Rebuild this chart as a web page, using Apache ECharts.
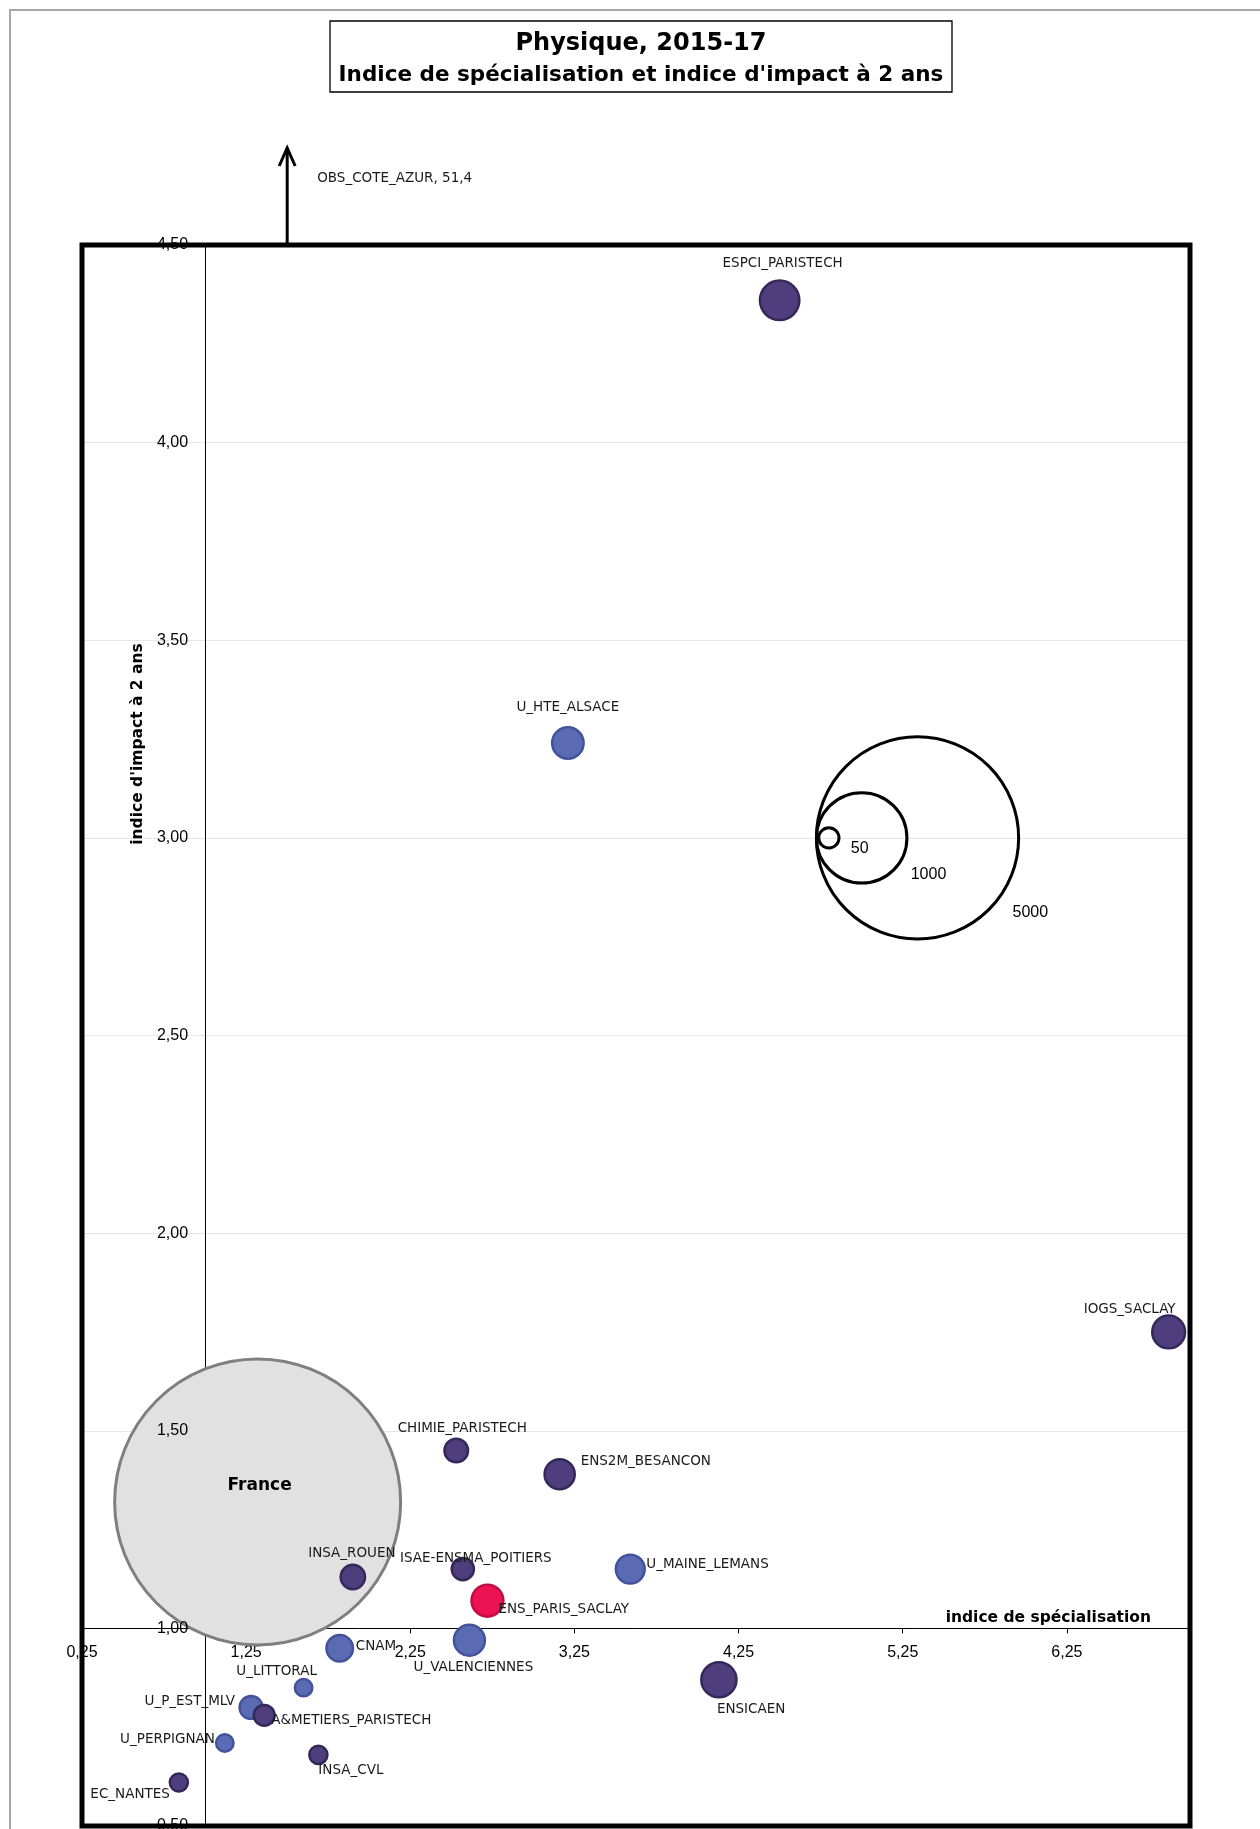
<!DOCTYPE html>
<html>
<head>
<meta charset="utf-8">
<script src="https://cdn.jsdelivr.net/npm/echarts@6/dist/echarts.min.js"></script>
<style>
html,body{margin:0;padding:0;background:#fff;}
#chart{width:1260px;height:1829px;}
</style>
</head>
<body>
<div id="chart"></div>
<script>
// ---------- DATA ----------
const institutions = ['ESPCI_PARISTECH','U_HTE_ALSACE','IOGS_SACLAY','CHIMIE_PARISTECH','ENS2M_BESANCON',
  'INSA_ROUEN','ISAE-ENSMA_POITIERS','U_MAINE_LEMANS','ENS_PARIS_SACLAY','CNAM','U_VALENCIENNES',
  'ENSICAEN','U_LITTORAL','U_P_EST_MLV','A&METIERS_PARISTECH','U_PERPIGNAN','INSA_CVL','EC_NANTES'];
const specIndex   = [4.50, 3.21, 6.87, 2.53, 3.16, 1.90, 2.57, 3.59, 2.72, 1.82, 2.61, 4.13, 1.60, 1.28, 1.36, 1.12, 1.69, 0.84];
const impactIndex = [4.36, 3.24, 1.75, 1.45, 1.39, 1.13, 1.15, 1.15, 1.07, 0.95, 0.97, 0.87, 0.85, 0.80, 0.78, 0.71, 0.68, 0.61];
const publications = [190, 121, 132, 68, 111, 72, 60, 102, 124, 86, 117, 151, 37, 64, 53, 37, 40, 40];
const groups = ['ecole','universite','ecole','ecole','ecole','ecole','ecole','universite','focus','universite',
  'universite','ecole','universite','universite','ecole','universite','ecole','ecole'];

const franceName = 'France';
const franceSpec = 1.32;
const franceImpact = 1.32;
const francePubs = 10000;

const outlierName = 'OBS_COTE_AZUR';
const outlierSpec = 1.50;
const outlierImpact = 51.4;

const sizeLegendValues = [50, 1000, 5000];
const sizeLegendSpec = [4.80, 5.00, 5.34];
const sizeLegendImpact = [3.00, 3.00, 3.00];

const X_MIN = 0.25, X_MAX = 7.0, X_STEP = 1;
const Y_MIN = 0.5, Y_MAX = 4.5, Y_STEP = 0.5;
const CROSS_X = 1.0, CROSS_Y = 1.0;

// ---------- STYLE ----------
const SIZE_K = 2.86; // diameter per sqrt(publications)
const groupStyle = {
  ecole:      {color:'#4f3e7d', borderColor:'#352859', borderWidth:2.5, opacity:1},
  universite: {color:'#5a6bb3', borderColor:'#43539b', borderWidth:2.5, opacity:1},
  focus:      {color:'#ec1254', borderColor:'#c20d44', borderWidth:2.5, opacity:1}
};
// label placement: [align, dx, dy] relative to bubble centre
const labelLayout = {
  'ESPCI_PARISTECH':['center',3,-37],
  'U_HTE_ALSACE':['center',0,-36],
  'IOGS_SACLAY':['center',-39,-22],
  'CHIMIE_PARISTECH':['center',6,-22],
  'ENS2M_BESANCON':['left',21,-13],
  'INSA_ROUEN':['center',-1,-23],
  'ISAE-ENSMA_POITIERS':['center',13,-11],
  'U_MAINE_LEMANS':['left',16,-5],
  'ENS_PARIS_SACLAY':['left',11,9],
  'CNAM':['left',16,-2],
  'U_VALENCIENNES':['center',4,27],
  'ENSICAEN':['left',-2,30],
  'U_LITTORAL':['center',-27,-16],
  'U_P_EST_MLV':['right',-16,-6],
  'A&METIERS_PARISTECH':['left',7,5],
  'U_PERPIGNAN':['right',-10,-3],
  'INSA_CVL':['left',0,16],
  'EC_NANTES':['right',-9,12]
};
const legendLabelOffset = [[22,11],[49,37],[95,75]];

const LABEL_FONT = 'DejaVu Sans';
const TICK_FONT = 'Liberation Sans';
const fmt = v => v.toFixed(2).replace('.', ',');

const pointData = institutions.map((name, i) => {
  const lay = labelLayout[name] || ['center', 0, -20];
  return {
    name: name,
    value: [specIndex[i], impactIndex[i], publications[i]],
    itemStyle: groupStyle[groups[i]],
    label: {show:true, position:'inside', align: lay[0], verticalAlign:'middle', offset:[lay[1], lay[2]]}
  };
});

const legendData = sizeLegendValues.map((v, i) => ({
  name: String(v),
  value: [sizeLegendSpec[i], sizeLegendImpact[i], v],
  label: {show:true, position:'inside', align:'left', verticalAlign:'middle', offset: legendLabelOffset[i]}
}));

const chart = echarts.init(document.getElementById('chart'));

function axisX(offset) {
  return {
    type:'value', min:X_MIN, max:X_MAX, interval:X_STEP, position:'bottom', offset: offset,
    axisLine:{show:true, onZero:false, lineStyle:{color:'#000', width:1}},
    axisTick:{show:true, length:5, lineStyle:{color:'#000'}},
    axisLabel:{show:true, formatter:fmt, margin:16, showMaxLabel:false, showMinLabel:true,
      fontFamily:TICK_FONT, fontSize:16, color:'#000'},
    splitLine:{show:false}
  };
}
function axisY(offset) {
  return [{
    type:'value', min:Y_MIN, max:Y_MAX, interval:Y_STEP, position:'left', offset: offset,
    axisLine:{show:true, onZero:false, lineStyle:{color:'#000', width:1}},
    axisTick:{show:false},
    axisLabel:{show:false},
    splitLine:{show:true, lineStyle:{color:'#e6e6e6', width:1}}
  },{
    type:'value', min:Y_MIN, max:Y_MAX, interval:Y_STEP, position:'left', offset: offset, z:10,
    axisLine:{show:false, onZero:false},
    axisTick:{show:false},
    axisLabel:{show:true, formatter:fmt, margin:17, fontFamily:TICK_FONT, fontSize:16, color:'#000'},
    splitLine:{show:false}
  }];
}

const option = {
  animation:false,
  backgroundColor:'#fff',
  title:[
    {text:'Physique, 2015-17', left:641, top:32, textAlign:'center', padding:0,
      textStyle:{fontFamily:LABEL_FONT, fontSize:24, fontWeight:'bold', color:'#000'}},
    {text:"Indice de spécialisation et indice d'impact à 2 ans", left:641, top:64, textAlign:'center', padding:0,
      textStyle:{fontFamily:LABEL_FONT, fontSize:21.5, fontWeight:'bold', color:'#000'}}
  ],
  grid:{left:82, right:70, top:245, bottom:3, show:false, containLabel:false, outerBoundsMode:'none'},
  xAxis: axisX(0),
  yAxis: axisY(0),
  series:[
    {
      name:franceName, type:'scatter', z:1, silent:true,
      data:[{name:franceName, value:[franceSpec, franceImpact, francePubs]}],
      symbolSize: v => SIZE_K*Math.sqrt(v[2]),
      itemStyle:{color:'#e1e1e1', borderColor:'#7f7f7f', borderWidth:3, opacity:1},
      label:{show:true, position:'inside', formatter:'{b}', offset:[2,-16],
        fontFamily:LABEL_FONT, fontSize:17, fontWeight:'bold', color:'#000'}
    },
    {
      name:'Établissements', type:'scatter', z:3, silent:true,
      data: pointData,
      symbolSize: v => SIZE_K*Math.sqrt(v[2]),
      label:{show:true, formatter:'{b}', fontFamily:LABEL_FONT, fontSize:13.5, color:'#1a1a1a'}
    },
    {
      name:'Taille', type:'scatter', z:2, silent:true,
      data: legendData,
      symbolSize: v => SIZE_K*Math.sqrt(v[2]),
      itemStyle:{color:'rgba(0,0,0,0)', borderColor:'#000', borderWidth:3, opacity:1},
      label:{show:true, formatter:'{b}', fontFamily:TICK_FONT, fontSize:16, color:'#000'}
    }
  ]
};
chart.setOption(option);

// position the axes so they cross at (CROSS_X, CROSS_Y), using the library's scales
const pCross = chart.convertToPixel({gridIndex:0}, [CROSS_X, CROSS_Y]);
const pMin0 = chart.convertToPixel({gridIndex:0}, [X_MIN, Y_MIN]);
chart.setOption({
  xAxis: axisX(-(pMin0[1] - pCross[1])),
  yAxis: axisY(-(pCross[0] - pMin0[0]))
});

const pMin = chart.convertToPixel({gridIndex:0}, [X_MIN, Y_MIN]);
const pMax = chart.convertToPixel({gridIndex:0}, [X_MAX, Y_MAX]);
const pOut = chart.convertToPixel({gridIndex:0}, [outlierSpec, Y_MAX]);
const arrowLen = 97, headW = 8, headH = 18;

chart.setOption({
  graphic:[
    {type:'rect', id:'outer', z:-10, silent:true, shape:{x:10, y:10, width:1400, height:1900},
      style:{fill:'none', stroke:'#a6a6a6', lineWidth:2}},
    {type:'rect', id:'frame', z:15, silent:true,
      shape:{x:pMin[0], y:pMax[1], width:pMax[0]-pMin[0], height:pMin[1]-pMax[1]},
      style:{fill:'none', stroke:'#000', lineWidth:5}},
    {type:'rect', id:'titlebox', silent:true, shape:{x:330, y:21, width:622, height:71},
      style:{fill:'none', stroke:'#000', lineWidth:1.3}},
    {type:'text', id:'xname', silent:true, x:1151, y:1618,
      style:{text:'indice de spécialisation', align:'right', verticalAlign:'middle',
        font:'bold 15.5px "DejaVu Sans"', fill:'#000'}},
    {type:'text', id:'yname', silent:true, x:138, y:744, rotation:Math.PI/2,
      style:{text:"indice d'impact à 2 ans", align:'center', verticalAlign:'middle',
        font:'bold 15.5px "DejaVu Sans"', fill:'#000'}},
    {type:'line', id:'arrowline', silent:true, z:20,
      shape:{x1:pOut[0], y1:pOut[1], x2:pOut[0], y2:pOut[1]-arrowLen},
      style:{stroke:'#000', lineWidth:3}},
    {type:'polyline', id:'arrowhead', silent:true, z:20,
      shape:{points:[[pOut[0]-headW, pOut[1]-arrowLen+headH],[pOut[0], pOut[1]-arrowLen],[pOut[0]+headW, pOut[1]-arrowLen+headH]]},
      style:{stroke:'#000', lineWidth:3, fill:'none'}},
    {type:'text', id:'arrowlabel', silent:true, x:pOut[0]+30, y:pOut[1]-67,
      style:{text: outlierName + ', ' + String(outlierImpact).replace('.', ','), align:'left', verticalAlign:'middle',
        font:'13.5px "DejaVu Sans"', fill:'#1a1a1a'}}
  ]
});
</script>
</body>
</html>
